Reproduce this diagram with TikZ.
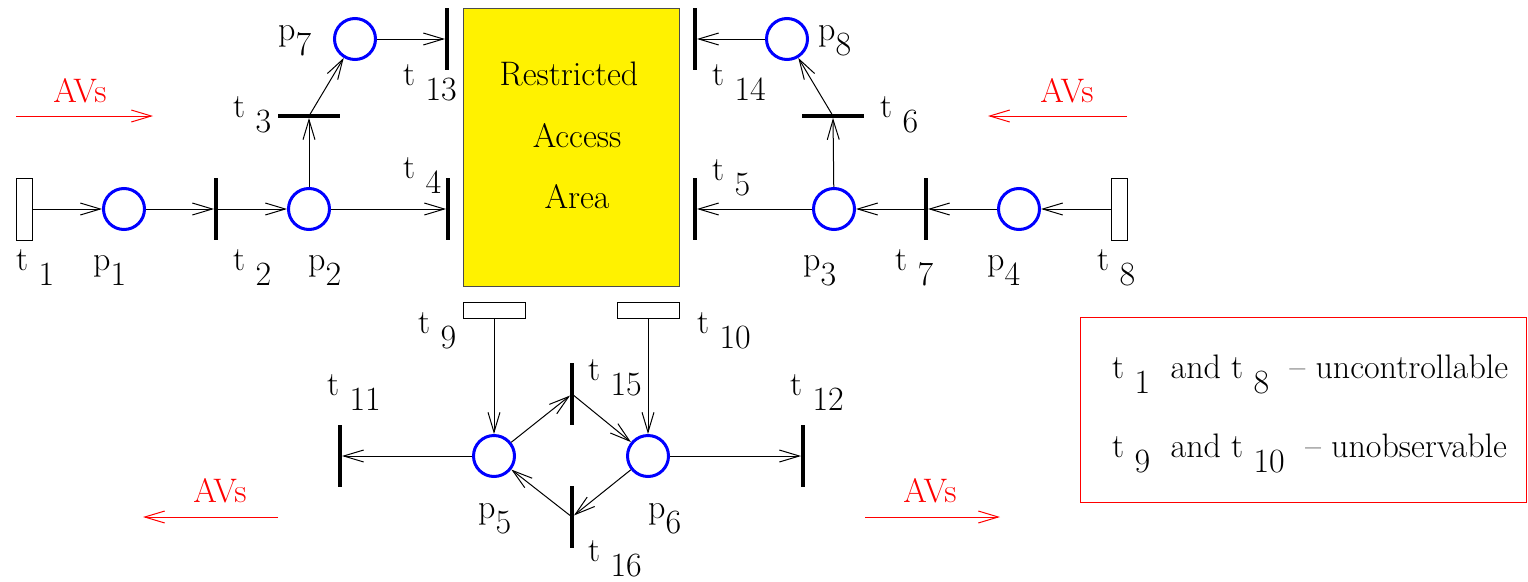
\documentclass[tikz,border=0pt]{standalone}
\usetikzlibrary{arrows.meta,positioning}

\newcommand{\tlab}[1]{t\ \raisebox{-15pt}{#1}}
\newcommand{\plab}[1]{p\raisebox{-15pt}{#1}}

\begin{document}
\begin{tikzpicture}[
  x=1pt, y=-1pt,
  every node/.style={font=\fontsize{34}{40}\selectfont},
  placenode/.style={draw=blue, circle, line width=3pt, minimum size=41pt, inner sep=0pt},
  tbar/.style={fill=black, inner sep=0pt, minimum width=3.5pt, minimum height=62pt},
  thbar/.style={fill=black, inner sep=0pt, minimum width=62pt, minimum height=3.5pt},
  tvbox/.style={draw, fill=white, line width=1pt, inner sep=0pt, minimum width=16pt, minimum height=62pt},
  thbox/.style={draw, fill=white, line width=1pt, inner sep=0pt, minimum width=62pt, minimum height=16pt},
  arcline/.style={line width=1pt, -{Straight Barb[length=20pt, width=12pt]}},
  avsline/.style={red, line width=1pt, -{Straight Barb[length=20pt, width=12pt]}},
  lbl/.style={anchor=base west, inner sep=0pt}
]
  \useasboundingbox (0,0) rectangle (1528,581);

  % restricted area
  \node[draw=black!70, fill=yellow, line width=0.8pt, minimum width=216pt, minimum height=278pt, inner sep=0pt] (area) at (571,147) {};
  \node[anchor=base, inner sep=0pt] (area1) at (569,85) {Restricted};
  \node[anchor=base, inner sep=0pt] (area2) at (577,147) {Access};
  \node[anchor=base, inner sep=0pt] (area3) at (577,208) {Area};

  % places
  \node[placenode] (p1) at (124,209) {};
  \node[placenode] (p2) at (309,209) {};
  \node[placenode] (p3) at (834,209) {};
  \node[placenode] (p4) at (1019,209) {};
  \node[placenode] (p5) at (494,456) {};
  \node[placenode] (p6) at (648,456) {};
  \node[placenode] (p7) at (355,39) {};
  \node[placenode] (p8) at (787,39) {};

  % transitions
  \node[tvbox] (t1) at (24,209) {};
  \node[tbar] (t2) at (216,209) {};
  \node[thbar] (t3) at (309,116) {};
  \node[tbar] (t4) at (448,209) {};
  \node[tbar] (t5) at (695,209) {};
  \node[thbar] (t6) at (833,116) {};
  \node[tbar] (t7) at (926,209) {};
  \node[tvbox] (t8) at (1119,209) {};
  \node[thbox] (t9) at (494,310) {};
  \node[thbox] (t10) at (648,310) {};
  \node[tbar] (t11) at (340,456) {};
  \node[tbar] (t12) at (803,456) {};
  \node[tbar] (t13) at (447,39) {};
  \node[tbar] (t14) at (695,39) {};
  \node[tbar] (t15) at (572,394) {};
  \node[tbar] (t16) at (572,517) {};

  % arcs
  \draw[arcline] (t1) -- (p1);
  \draw[arcline] (p1) -- (t2);
  \draw[arcline] (t2) -- (p2);
  \draw[arcline] (p2) -- (t4);
  \draw[arcline] (p2) -- (t3);
  \draw[arcline] (t3) -- (p7);
  \draw[arcline] (p7) -- (t13);
  \draw[arcline] (p8) -- (t14);
  \draw[arcline] (t6) -- (p8);
  \draw[arcline] (p3) -- (t6);
  \draw[arcline] (p3) -- (t5);
  \draw[arcline] (t7) -- (p3);
  \draw[arcline] (p4) -- (t7);
  \draw[arcline] (t8) -- (p4);
  \draw[arcline] (t9) -- (p5);
  \draw[arcline] (t10) -- (p6);
  \draw[arcline] (p5) -- (t11);
  \draw[arcline] (p6) -- (t12);
  \draw[arcline] (p5) -- (t15);
  \draw[arcline] (t15) -- (p6);
  \draw[arcline] (p6) -- (t16);
  \draw[arcline] (t16) -- (p5);

  % labels
  \node[lbl] (lt1) at (16,270) {\tlab{1}};
  \node[lbl] (lp1) at (93,270) {\plab{1}};
  \node[lbl] (lt2) at (233,270) {\tlab{2}};
  \node[lbl] (lp2) at (308,270) {\plab{2}};
  \node[lbl] (lt3) at (233,117) {\tlab{3}};
  \node[lbl] (lt4) at (403,178) {\tlab{4}};
  \node[lbl] (lt5) at (712,180) {\tlab{5}};
  \node[lbl] (lt6) at (880,117) {\tlab{6}};
  \node[lbl] (lp3) at (803,270) {\plab{3}};
  \node[lbl] (lt7) at (895,270) {\tlab{7}};
  \node[lbl] (lp4) at (987,270) {\plab{4}};
  \node[lbl] (lt8) at (1097,270) {\tlab{8}};
  \node[lbl] (lp7) at (278,40) {\plab{7}};
  \node[lbl] (lp8) at (818,40) {\plab{8}};
  \node[lbl] (lt13) at (403,85) {\tlab{13}};
  \node[lbl] (lt14) at (712,85) {\tlab{14}};
  \node[lbl] (lt9) at (418,333) {\tlab{9}};
  \node[lbl] (lt10) at (697,333) {\tlab{10}};
  \node[lbl] (lt11) at (327,395) {\tlab{11}};
  \node[lbl] (lt12) at (790,395) {\tlab{12}};
  \node[lbl] (lt15) at (588,380) {\tlab{15}};
  \node[lbl] (lt16) at (588,561) {\tlab{16}};
  \node[lbl] (lp5) at (478,518) {\plab{5}};
  \node[lbl] (lp6) at (648,518) {\plab{6}};

  % AVs flows
  \coordinate (a1s) at (16,116);  \coordinate (a1e) at (153,116);
  \coordinate (a2s) at (1127,116); \coordinate (a2e) at (988,116);
  \coordinate (a3s) at (278,517); \coordinate (a3e) at (143,517);
  \coordinate (a4s) at (865,517); \coordinate (a4e) at (1000,517);
  \draw[avsline] (a1s) -- (a1e);
  \draw[avsline] (a2s) -- (a2e);
  \draw[avsline] (a3s) -- (a3e);
  \draw[avsline] (a4s) -- (a4e);
  \node[anchor=base, inner sep=0pt, text=red] (av1) at (80,102) {AVs};
  \node[anchor=base, inner sep=0pt, text=red] (av2) at (1067,102) {AVs};
  \node[anchor=base, inner sep=0pt, text=red] (av3) at (220,502) {AVs};
  \node[anchor=base, inner sep=0pt, text=red] (av4) at (930,502) {AVs};

  % legend
  \node[draw=red, line width=1pt, minimum width=446pt, minimum height=185pt, inner sep=0pt] (legend) at (1303,409.5) {};
  \node[lbl] (leg1) at (1112,378) {\tlab{1}\ \ and \tlab{8}\ \ -- uncontrollable};
  \node[lbl] (leg2) at (1112,457) {\tlab{9}\ \ and \tlab{10}\ \ -- unobservable};
\end{tikzpicture}
\end{document}
